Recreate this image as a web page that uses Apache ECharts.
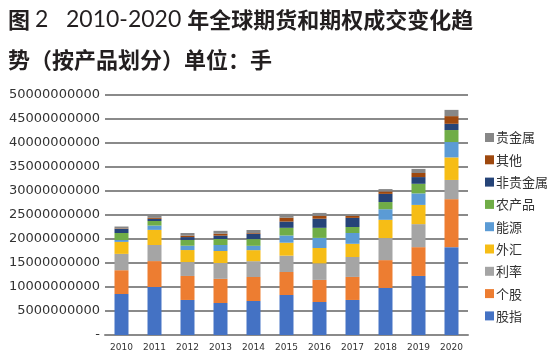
<!DOCTYPE html>
<html><head><meta charset="utf-8">
<script src="https://cdn.jsdelivr.net/npm/echarts@6/dist/echarts.min.js"></script>
<style>html,body{margin:0;padding:0;background:#fff}#c{width:551px;height:361px}</style>
</head><body><div id="c"></div>
<script>
const years = ['2010','2011','2012','2013','2014','2015','2016','2017','2018','2019','2020'];
const yTicks = [0,5e9,10e9,15e9,20e9,25e9,30e9,35e9,40e9,45e9,50e9];
// values in units of 1e9 contracts (手)
const guZhi     = [8.54,10.0,7.3,6.67,7.08,8.33,6.88,7.3,9.8,12.3,18.3];
const geGu      = [4.96,5.4,5.0,5.03,5.0,4.8,4.6,4.8,5.8,6.0,10.0];
const liLv      = [3.4,3.35,2.9,3.3,3.3,3.4,3.45,4.15,4.6,4.8,4.0];
const waiHui    = [2.5,3.15,2.5,2.5,2.3,2.7,3.2,2.75,3.8,4.0,4.7];
const nengYuan  = [0.4,0.9,0.9,1.25,0.9,1.5,2.1,2.25,2.2,2.4,3.2];
const nongChanPin = [1.45,0.95,1.2,1.25,1.4,1.6,2.1,1.25,1.5,2.0,2.5];
const feiGuiJinShu = [0.85,0.45,0.6,0.7,1.1,1.3,1.9,1.9,1.7,1.4,1.3];
const qiTa      = [0.1,0.2,0.3,0.4,0.15,0.8,0.6,0.4,0.5,0.85,1.6];
const guiJinShu = [0.4,0.6,0.55,0.6,0.65,0.8,0.6,0.1,0.5,0.85,1.3];

const seriesNames = ['股指','个股','利率','外汇','能源','农产品','非贵金属','其他','贵金属'];
const seriesData = [guZhi,geGu,liLv,waiHui,nengYuan,nongChanPin,feiGuiJinShu,qiTa,guiJinShu];
const colors = ['#4472C4','#ED7D31','#A5A5A5','#F6BD16','#5B9BD5','#70AD47','#264478','#9E480E','#878787'];

const tf = {fontFamily:'Noto Sans CJK SC', fontWeight:'bold', color:'#231f20', lineHeight:39.5};
const chart = echarts.init(document.getElementById('c'), null, {renderer:'canvas'});
chart.setOption({
  animation:false,
  color: colors,
  title:{
    text:'{a|图 }{b|2   2010-2020 }{a|年全球期货和期权成交变化趋}\n{a|势（按产品划分）单位：手}',
    left:8, top:0, padding:0,
    textStyle:Object.assign({fontSize:22, rich:{
      a:Object.assign({fontSize:22}, tf),
      b:Object.assign({}, tf, {fontSize:23, fontWeight:'normal', fontFamily:'Lato'})
    }}, tf)
  },
  legend:{
    orient:'vertical', left:480, top:126,
    data: seriesNames.slice().reverse(),
    itemWidth:9, itemHeight:9, itemGap:9.3,
    icon:'rect',
    textStyle:{fontFamily:'Noto Sans CJK SC', fontSize:13, color:'#333', lineHeight:13, padding:[0,0,0,-3]}
  },
  grid:{left:105, right:83, top:95, bottom:26, containLabel:false},
  xAxis:{
    type:'category', data:years,
    axisLine:{show:true, lineStyle:{color:'#8a8a8a', width:2}},
    axisTick:{show:false},
    axisLabel:{fontFamily:'DejaVu Sans', fontSize:9, color:'#333', margin:8}
  },
  yAxis:{
    type:'value', min:0, max:50e9, interval:5e9,
    axisLine:{show:false}, axisTick:{show:false},
    splitLine:{show:true, lineStyle:{color:'#8a8a8a', width:2}},
    axisLabel:{fontFamily:'DejaVu Sans', fontSize:13, color:'#333', margin:5,
      formatter:v=> v===0 ? '-' : String(Math.round(v))}
  },
  series: seriesNames.map((n,i)=>({
    name:n, type:'bar', stack:'total', barWidth:14,
    data: seriesData[i].map(v=>v*1e9),
    itemStyle:{color:colors[i]}
  }))
});
</script></body></html>
